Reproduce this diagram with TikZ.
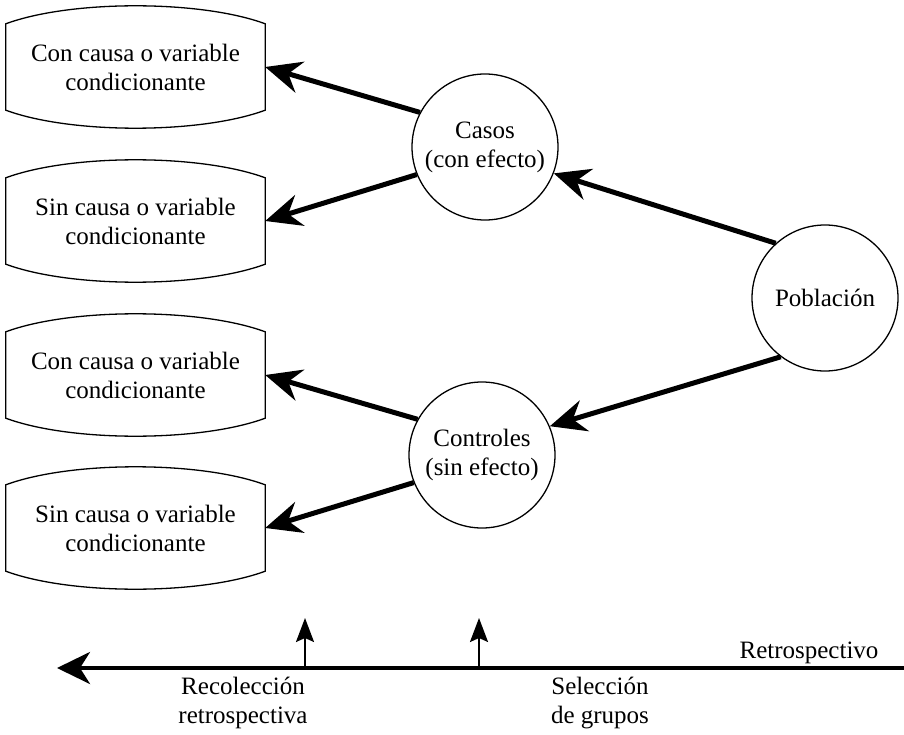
\documentclass[tikz,border=0pt]{standalone}
\usepackage{fontspec}
\setmainfont{Liberation Serif}
\usetikzlibrary{arrows.meta,calc}

\begin{document}
\begin{tikzpicture}[x=1pt,y=-1pt,
    every node/.style={font=\fontsize{25}{29}\selectfont, align=center},
    caja/.style={minimum width=259pt, minimum height=86pt, inner sep=0pt},
    grupo/.style={circle, draw, line width=1.3pt, minimum size=146pt, inner sep=0pt},
    borde/.style={line width=1.3pt},
    flecha/.style={line width=5pt, -{Stealth[length=36pt,width=32pt,inset=12pt]}}]
    \useasboundingbox (0,0) rectangle (904,735);
    %%cajas de la izquierda, lados rectos y tapas curvas
    \foreach \nombre/\yy/\texto in {b1/67/Con causa o variable, b2/221/Sin causa o variable, b3/375/Con causa o variable, b4/528/Sin causa o variable}{
        \node[caja] (\nombre) at (135.5,\yy) {\texto\\condicionante};
        \draw[borde] (\nombre.south west) -- (\nombre.north west)
            .. controls ($(\nombre.north west)+(65,-24)$) and ($(\nombre.north east)+(-65,-24)$) .. (\nombre.north east)
            -- (\nombre.south east)
            .. controls ($(\nombre.south east)+(-65,24)$) and ($(\nombre.south west)+(65,24)$) .. cycle;
    }
    %%grupos
    \node[grupo] (casos) at (485,147) {Casos\\(con efecto)};
    \node[grupo] (controles) at (482,455) {Controles\\(sin efecto)};
    \node[grupo] (poblacion) at (825,298) {Población};
    \draw[flecha] (poblacion.132) -- (casos.-21);
    \draw[flecha] (poblacion.233) -- (controles.23);
    \draw[flecha] (casos.152) -- (b1.east);
    \draw[flecha] (casos.202) -- (b2.east);
    \draw[flecha] (controles.151) -- (b3.east);
    \draw[flecha] (controles.202) -- (b4.east);
    %%eje del tiempo
    \coordinate (ini) at (904,668);
    \coordinate (fin) at (57,668);
    \draw[line width=4pt, -{Stealth[length=33pt,width=32pt,inset=10pt]}] (ini) -- (fin);
    \foreach \x/\base/\punta in {305/r1/p1, 479/r2/p2}{
        \coordinate (\base) at (\x,668);
        \coordinate (\punta) at (\x,618);
        \draw[line width=2pt, -{Stealth[length=24pt,width=18pt,inset=4pt]}] (\base) -- (\punta);
    }
    \node (retro) at (809,653) {Retrospectivo};
    \node (recol) at (243,703) {Recolección\\retrospectiva};
    \node (selec) at (600,703) {Selección\\de grupos};
\end{tikzpicture}
\end{document}
